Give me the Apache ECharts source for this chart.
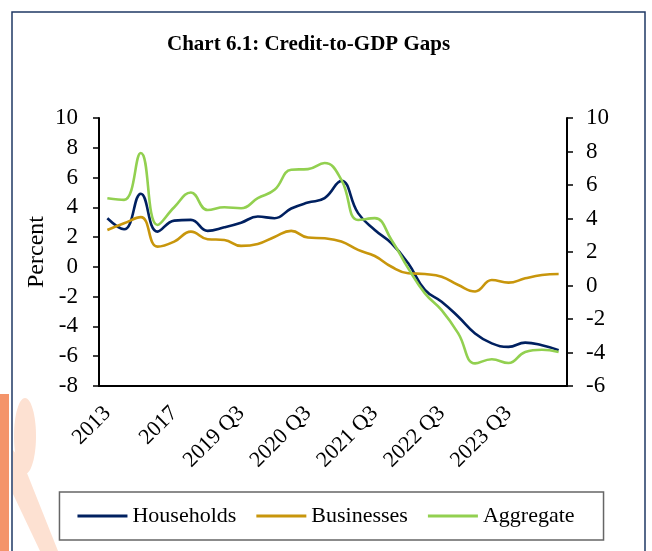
<!DOCTYPE html>
<html>
<head>
<meta charset="utf-8">
<script src="https://cdn.jsdelivr.net/npm/echarts@6/dist/echarts.min.js"></script>
<style>
  html, body { margin: 0; padding: 0; background: #fff; }
  #chart { width: 652px; height: 551px; }
</style>
</head>
<body>
<div id="chart"></div>
<script>
// categories: annual 2013-2018, then quarterly
const categories = [
  '2013', '2014', '2015', '2016', '2017', '2018',
  '2019 Q1', '2019 Q2', '2019 Q3', '2019 Q4',
  '2020 Q1', '2020 Q2', '2020 Q3', '2020 Q4',
  '2021 Q1', '2021 Q2', '2021 Q3', '2021 Q4',
  '2022 Q1', '2022 Q2', '2022 Q3', '2022 Q4',
  '2023 Q1', '2023 Q2', '2023 Q3', '2023 Q4',
  '2024 Q1', '2024 Q2'
]

// left axis (percent)
const households = [
  3.27, 2.53, 4.91, 2.37, 3.11, 3.16, 2.42, 2.66, 2.97, 3.38,
  3.27, 3.92, 4.32, 4.62, 5.78, 3.61, 2.48, 1.59, 0.24, -1.55,
  -2.34, -3.35, -4.47, -5.14, -5.37, -5.09, -5.26, -5.59
]
const businesses = [
  2.48, 2.93, 3.34, 1.36, 1.70, 2.37, 1.86, 1.81, 1.41, 1.54,
  2.01, 2.42, 1.97, 1.92, 1.70, 1.14, 0.73, 0.01, -0.43, -0.48,
  -0.66, -1.22, -1.65, -0.88, -1.06, -0.77, -0.55, -0.48
]
// right axis
const aggregate = [
  5.21, 5.11, 7.91, 3.61, 4.67, 5.55, 4.51, 4.67, 4.61, 5.21,
  5.71, 6.91, 6.95, 7.31, 6.31, 3.91, 4.02, 2.72, 1.02, -0.47,
  -1.47, -2.87, -4.65, -4.40, -4.63, -3.97, -3.84, -3.97
]

const leftTicks = { min: -8, max: 10, interval: 2 }
const rightTicks = { min: -6, max: 10, interval: 2 }

const FONT = 'Liberation Serif'
const colors = { households: '#002060', businesses: '#C8960C', aggregate: '#92D050' }

function yAxisBase(ticks, position) {
  return {
    type: 'value',
    position: position,
    min: ticks.min,
    max: ticks.max,
    interval: ticks.interval,
    axisLine: { show: true, onZero: false, lineStyle: { color: '#000', width: 2 } },
    axisTick: { show: true, length: 6, lineStyle: { color: '#000', width: 1.5 } },
    splitLine: { show: false },
    axisLabel: {
      fontFamily: FONT,
      fontSize: 23,
      color: '#000',
      margin: position === 'left' ? 21 : 19
    }
  }
}

function lineSeries(name, data, color, axisIndex) {
  return {
    name: name,
    type: 'line',
    data: data,
    yAxisIndex: axisIndex,
    smooth: 0.45,
    showSymbol: false,
    symbol: 'none',
    lineStyle: { color: color, width: 2.6 },
    itemStyle: { color: color }
  }
}

const chart = echarts.init(document.getElementById('chart'))
chart.setOption({
  animation: false,
  title: {
    text: 'Chart 6.1: Credit-to-GDP Gaps',
    left: 162,
    top: 29,
    textStyle: { fontFamily: FONT, fontSize: 21, fontWeight: 'bold', color: '#000' }
  },
  graphic: [
    { type: 'rect', shape: { x: 12, y: 12, width: 633, height: 560 }, style: { fill: 'none', stroke: '#1f3864', lineWidth: 1.5 }, z: 0 },
    { type: 'polygon', shape: { points: [[0, 394], [9, 394], [9, 551], [0, 551]] }, style: { fill: '#f4946a' }, z: 0 },
    { type: 'ellipse', shape: { cx: 25, cy: 436, rx: 11, ry: 38 }, style: { fill: '#fde1d2' }, z: 0 },
    { type: 'polygon', shape: { points: [[13, 450], [23, 463], [58, 551], [40, 551], [13, 494]] }, style: { fill: '#fde1d2' }, z: 0 },
    // y axis title
    {
      type: 'text',
      x: 37,
      y: 252,
      rotation: Math.PI / 2,
      style: {
        text: 'Percent',
        fontFamily: FONT,
        fontSize: 24,
        fill: '#000',
        textAlign: 'center',
        textVerticalAlign: 'middle'
      }
    }
  ],
  grid: { left: 99, right: 85, top: 118, bottom: 165, containLabel: false },
  legend: {
    top: 492,
    left: 'center',
    padding: [13, 29, 13, 18],
    borderColor: '#666',
    borderWidth: 1.5,
    itemGap: 20,
    itemWidth: 50,
    itemHeight: 3,
    icon: 'rect',
    textStyle: { fontFamily: FONT, fontSize: 22, color: '#000', lineHeight: 22 },
    data: ['Households', 'Businesses', 'Aggregate']
  },
  xAxis: {
    type: 'category',
    data: categories,
    boundaryGap: true,
    axisLine: { show: true, onZero: false, lineStyle: { color: '#000', width: 2 } },
    axisTick: { show: false },
    axisLabel: {
      interval: 3,
      rotate: 45,
      margin: 24,
      fontFamily: FONT,
      fontSize: 22,
      color: '#000'
    }
  },
  yAxis: [yAxisBase(leftTicks, 'left'), yAxisBase(rightTicks, 'right')],
  series: [
    lineSeries('Households', households, colors.households, 0),
    lineSeries('Businesses', businesses, colors.businesses, 0),
    lineSeries('Aggregate', aggregate, colors.aggregate, 1)
  ]
})
</script>
</body>
</html>
